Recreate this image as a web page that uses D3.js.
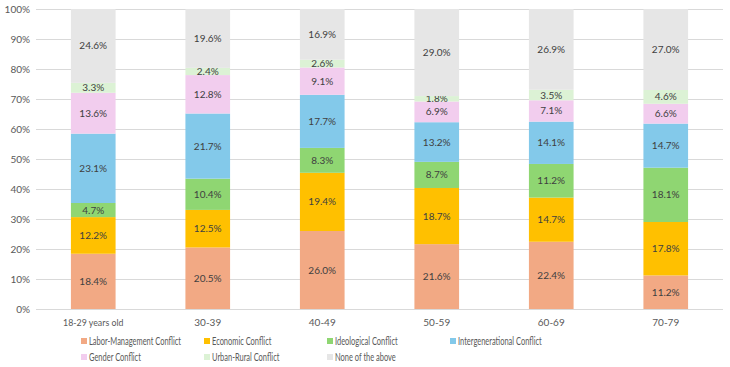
<!DOCTYPE html>
<html><head><meta charset="utf-8">
<script src="https://cdn.jsdelivr.net/npm/d3@7"></script>
<style>body{margin:0;background:#fff}svg{display:block;font-family:Lato,"Noto Sans",sans-serif}</style>
</head><body><svg id="c" width="730" height="367"></svg>
<script>
const categories = ["18-29 years old","30-39","40-49","50-59","60-69","70-79"];
const seriesNames = ["Labor-Management Conflict","Economic Conflict","Ideological Conflict","Intergenerational Conflict","Gender Conflict","Urban-Rural Conflict","None of the above"];
const colors = ["#F2A984","#FFC000","#8FD672","#83C9EA","#F2CDEE","#DCF2D5","#E6E6E6"];
const laborMgmt = [18.4,20.5,26.0,21.6,22.4,11.2];
const economic = [12.2,12.5,19.4,18.7,14.7,17.8];
const ideological = [4.7,10.4,8.3,8.7,11.2,18.1];
const intergenerational = [23.1,21.7,17.7,13.2,14.1,14.7];
const gender = [13.6,12.8,9.1,6.9,7.1,6.6];
const urbanRural = [3.3,2.4,2.6,1.8,3.5,4.6];
const noneAbove = [24.6,19.6,16.9,29.0,26.9,27.0];
const yTicks = [0,10,20,30,40,50,60,70,80,90,100];

const seriesVals = [laborMgmt,economic,ideological,intergenerational,gender,urbanRural,noneAbove];
const rows = categories.map((c,i)=>{
  const o={cat:c}; let tot=0;
  seriesNames.forEach((s,j)=>{tot+=seriesVals[j][i];});
  seriesNames.forEach((s,j)=>{o[s]=seriesVals[j][i]/tot*100; o["raw_"+s]=seriesVals[j][i];});
  return o;
});
const svg=d3.select("#c");
const m={l:36,r:7,t:9,b:58};
const W=730,H=367;
const x=d3.scaleBand().domain(categories).range([m.l,W-m.r]).paddingInner(0.61).paddingOuter(0.305);
const y=d3.scaleLinear().domain([0,100]).range([H-m.b,m.t]);

svg.append("g").selectAll("line").data(yTicks).join("line")
  .attr("x1",m.l).attr("x2",W-m.r).attr("y1",d=>Math.round(y(d))+0.5).attr("y2",d=>Math.round(y(d))+0.5)
  .attr("stroke","#d9d9d9").attr("stroke-width",1);
svg.append("g").selectAll("text").data(yTicks).join("text")
  .attr("x",30).attr("y",d=>y(d)).attr("dy","0.35em").attr("text-anchor","end")
  .attr("font-size","10px").attr("fill","#595959").text(d=>d+"%");

const stack=d3.stack().keys(seriesNames)(rows);
const g=svg.append("g");
stack.forEach((layer,j)=>{
  g.selectAll(null).data(layer).join("rect")
    .attr("x",d=>x(d.data.cat)).attr("width",x.bandwidth())
    .attr("y",d=>y(d[1])).attr("height",d=>y(d[0])-y(d[1]))
    .attr("fill",colors[j]);
  g.selectAll(null).data(layer).join("text")
    .attr("x",d=>x(d.data.cat)+x.bandwidth()/2).attr("y",d=>(y(d[0])+y(d[1]))/2).attr("dy","0.35em")
    .attr("text-anchor","middle").attr("font-size","10px").attr("fill","#404040")
    .text(d=>d.data["raw_"+seriesNames[j]].toFixed(1)+"%");
});
svg.append("g").selectAll("text").data(categories).join("text")
  .attr("x",d=>x(d)+x.bandwidth()/2).attr("y",322).attr("dy","0.35em").attr("text-anchor","middle")
  .attr("font-size","10px").attr("fill","#595959").text(d=>d)
  .each(function(){const w=this.getComputedTextLength(); if(w>40) d3.select(this).attr("textLength",w*0.88).attr("lengthAdjust","spacingAndGlyphs");});
const lg=svg.append("g");
let k=null;
seriesNames.forEach((s,j)=>{
  const col=j%4,row=Math.floor(j/4);
  const lx=81+col*123, ly=341+row*16;
  lg.append("rect").attr("x",lx).attr("y",ly-3).attr("width",6).attr("height",6).attr("fill",colors[j]);
  const t=lg.append("text").attr("x",lx+8).attr("y",ly).attr("dy","0.35em").attr("font-size","10.5px").attr("fill","#595959").text(s);
  const w=t.node().getComputedTextLength();
  if(k===null) k=92/w;
  t.attr("textLength",w*k).attr("lengthAdjust","spacingAndGlyphs");
});
</script></body></html>
